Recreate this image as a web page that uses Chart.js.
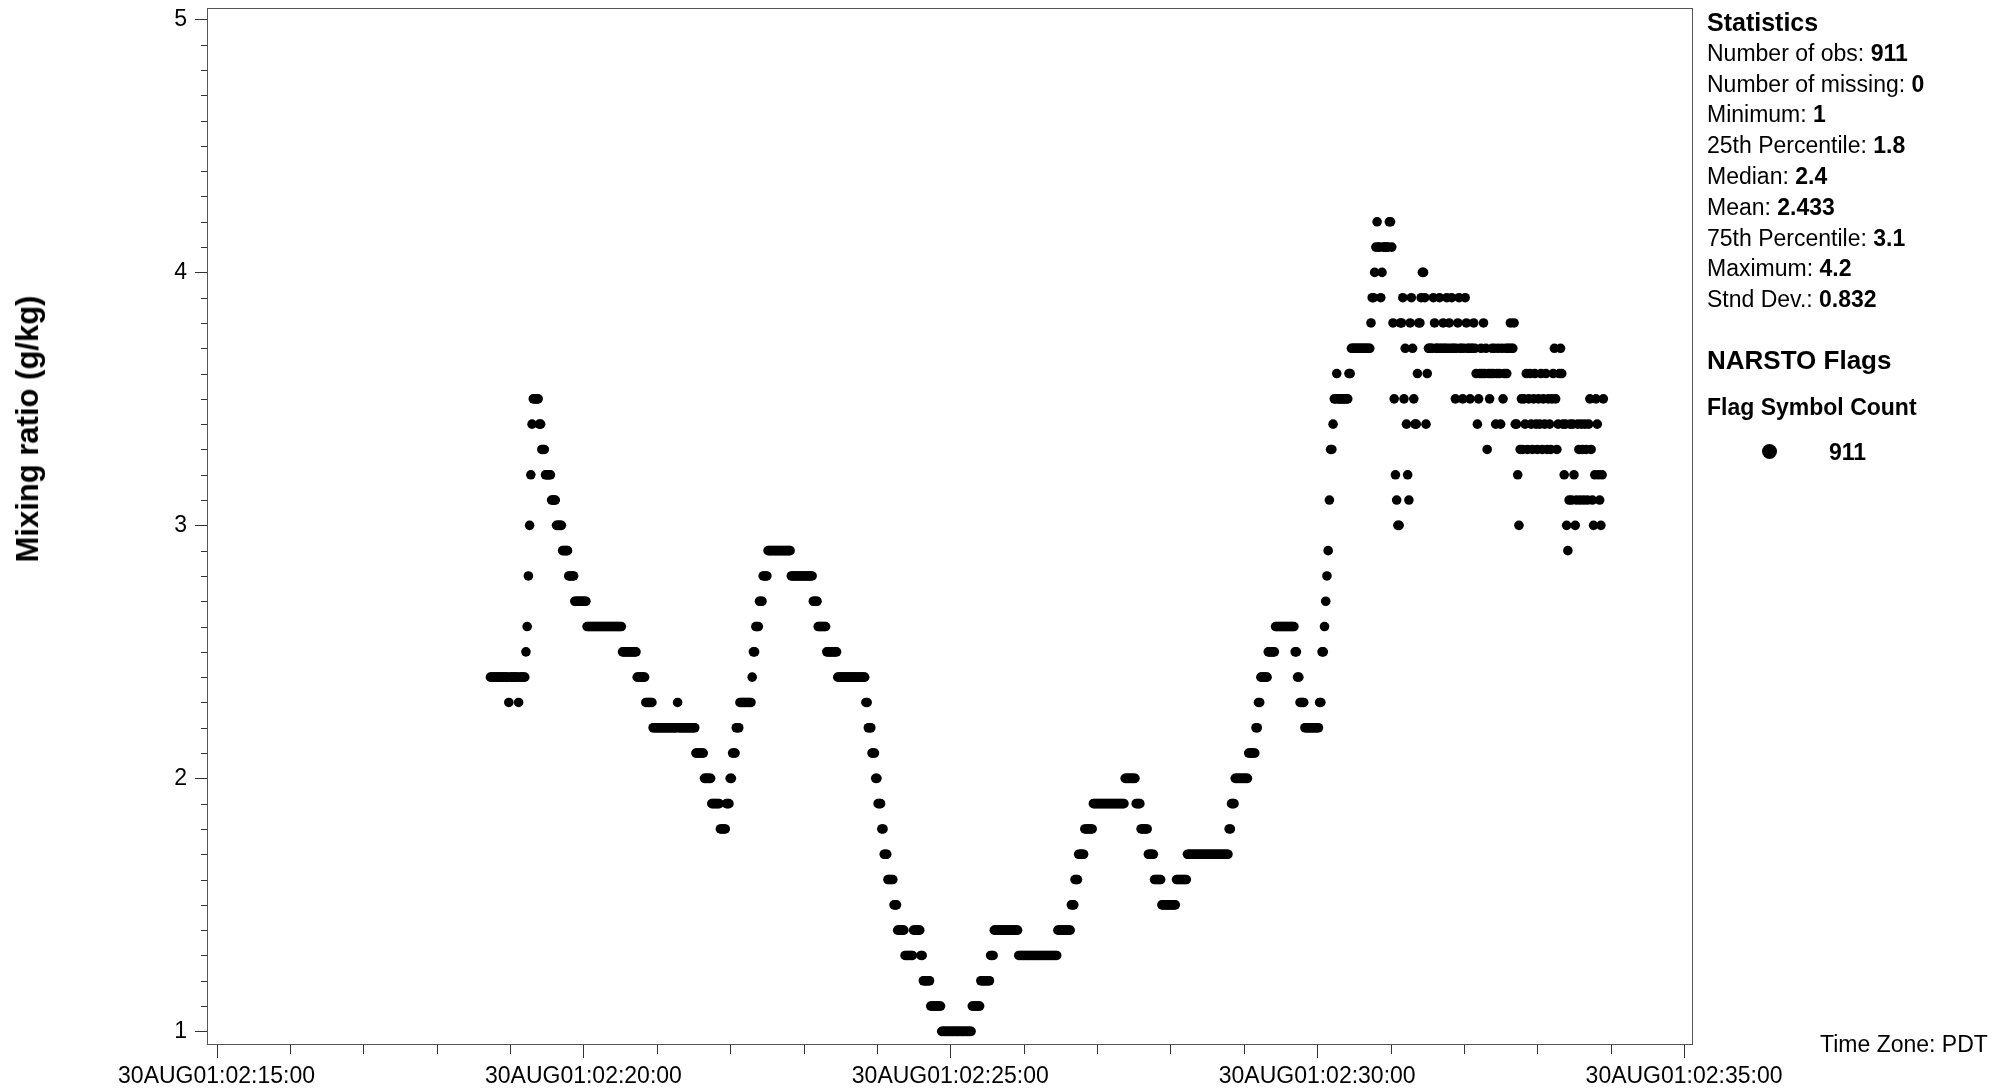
<!DOCTYPE html>
<html>
<head>
<meta charset="utf-8">
<script src="https://cdn.jsdelivr.net/npm/chart.js@4.4.1/dist/chart.umd.min.js"></script>
<style>
  html, body { margin: 0; padding: 0; background: #ffffff; }
  #wrap { position: relative; width: 2013px; height: 1089px; font-family: "Liberation Sans", Arial, sans-serif; color: #000; overflow: hidden; }
  #chart { position: absolute; left: 0; top: 0; }
  .txt { position: absolute; white-space: nowrap; }
  .stats { left: 1707px; top: 7px; font-size: 23px; line-height: 30.8px; }
  .stats .head { font-size: 25px; font-weight: bold; }
  .stats b { font-weight: bold; }
  .flags { left: 1707px; top: 345px; font-size: 26px; font-weight: bold; }
  .flaghdr { left: 1707px; top: 394px; font-size: 23px; font-weight: bold; }
  .legdot { position: absolute; left: 1762px; top: 444px; width: 15px; height: 15px; border-radius: 50%; background: #000; }
  .legcount { left: 1829px; top: 439px; font-size: 23px; font-weight: bold; }
  .tz { left: 1820px; top: 1031px; font-size: 23px; }
  .ytitle { left: 28px; top: 429px; font-size: 31px; font-weight: bold; transform: translate(-50%, -50%) rotate(-90deg); }
</style>
</head>
<body>
<div id="wrap">
  <canvas id="chart" width="2013" height="1089"></canvas>
  <div class="txt ytitle">Mixing ratio (g/kg)</div>
  <div class="txt stats">
    <div class="head">Statistics</div>
    <div>Number of obs: <b>911</b></div>
    <div>Number of missing: <b>0</b></div>
    <div>Minimum: <b>1</b></div>
    <div>25th Percentile: <b>1.8</b></div>
    <div>Median: <b>2.4</b></div>
    <div>Mean: <b>2.433</b></div>
    <div>75th Percentile: <b>3.1</b></div>
    <div>Maximum: <b>4.2</b></div>
    <div>Stnd Dev.: <b>0.832</b></div>
  </div>
  <div class="txt flags">NARSTO Flags</div>
  <div class="txt flaghdr">Flag Symbol Count</div>
  <div class="legdot"></div>
  <div class="txt legcount">911</div>
  <div class="txt tz">Time Zone: PDT</div>
</div>
<script>
// ---------------- DATA ----------------
// x values are seconds after 30AUG01 02:15:00 (PDT); one observation per second
const dayLabel = '30AUG01';
const axisOriginHour = 2, axisOriginMinute = 15;
const firstObsSecond = 224;            // 02:18:44
// smooth part: [mixing ratio g/kg, number of consecutive 1-s observations]
const runsSmooth = [
  [2.4,15],[2.3,1],[2.4,7],[2.3,1],[2.4,5],[2.5,1],[2.6,1],[2.8,1],[3.0,1],[3.2,1],[3.4,1],[3.5,5],[3.4,2],[3.3,3],
  [3.2,5],[3.1,4],[3.0,5],[2.9,5],[2.8,5],[2.7,10],[2.6,29],[2.5,12],[2.4,7],[2.3,6],[2.2,20],[2.3,1],[2.2,14],
  [2.1,7],[2.0,6],[1.9,7],[1.8,5],[1.9,3],[2.0,2],[2.1,3],[2.2,3],[2.3,10],[2.4,1],[2.5,2],[2.6,3],[2.7,3],[2.8,4],
  [2.9,19],[2.8,18],[2.7,4],[2.6,7],[2.5,9],[2.4,23],[2.3,2],[2.2,3],[2.1,3],[2.0,2],[1.9,3],[1.8,2],[1.7,3],[1.6,5],
  [1.5,3],[1.4,6],[1.3,7],[1.4,6],[1.3,2],[1.2,6],[1.1,9],[1.0,25],[1.1,7],[1.2,8],[1.3,3],[1.4,20],[1.3,32],[1.4,11],
  [1.5,3],[1.6,3],[1.7,5],[1.8,7],[1.9,26],[2.0,9],[1.9,4],[1.8,6],[1.7,5],[1.6,6],[1.5,12],[1.6,9],[1.7,34],[1.8,2],
  [1.9,3],[2.0,11],[2.1,6],[2.2,2],[2.3,2],[2.4,6],[2.5,6],[2.6,16],[2.5,2],[2.4,2],[2.3,4],[2.2,12],[2.3,2],[2.5,2],
  [2.6,1],[2.7,1],[2.8,1],[2.9,1],[3.1,1],[3.3,2],[3.4,1],[3.5,2],[3.6,1],[3.5,9],[3.6,2],[3.7,16],[3.8,1],[3.9,2],
  [4.0,1],[4.1,1],[4.2,1],[4.1,2],[3.9,1],[4.0,1],[4.1,5],[4.2,2],[4.1,1]
];
// noisy tail: one value per second (02:31:02 ... 02:33:54)
const tailValues = [
  3.8,3.5,3.2,3.1,3.0,3.0,3.8,3.8,3.9,3.5,
  3.7,3.4,3.2,3.1,3.8,3.9,3.7,3.5,3.4,3.4,
  3.6,3.8,3.8,3.9,4.0,4.0,3.9,3.4,3.6,3.7,
  3.7,3.7,3.7,3.9,3.8,3.7,3.7,3.7,3.9,3.7,
  3.7,3.8,3.7,3.7,3.9,3.7,3.8,3.7,3.9,3.7,
  3.7,3.5,3.7,3.8,3.9,3.7,3.7,3.5,3.7,3.9,
  3.8,3.7,3.7,3.5,3.7,3.7,3.8,3.7,3.6,3.4,
  3.5,3.6,3.7,3.6,3.8,3.6,3.7,3.3,3.6,3.5,
  3.6,3.7,3.6,3.7,3.4,3.6,3.7,3.6,3.4,3.7,
  3.5,3.6,3.7,3.6,3.7,3.7,3.8,3.7,3.7,3.8,
  3.4,3.4,3.2,3.0,3.3,3.5,3.3,3.5,3.4,3.6,
  3.3,3.5,3.6,3.4,3.3,3.5,3.6,3.4,3.3,3.5,
  3.4,3.6,3.3,3.5,3.4,3.6,3.3,3.5,3.4,3.3,
  3.5,3.6,3.7,3.5,3.3,3.4,3.6,3.7,3.6,3.4,
  3.2,3.4,3.0,2.9,3.1,3.4,3.1,3.4,3.2,3.0,
  3.1,3.4,3.3,3.1,3.4,3.3,3.1,3.4,3.3,3.1,
  3.4,3.5,3.3,3.1,3.0,3.2,3.5,3.4,3.2,3.1,
  3.0,3.2,3.5
];
const yTickStep = 0.1;
const xTickStepSeconds = 60;
const xLabelEverySeconds = 300;

// ---------------- BUILD POINTS ----------------
const points = [];
let sec = firstObsSecond;
runsSmooth.forEach(([v, n]) => { for (let k = 0; k < n; k++) { points.push({ x: sec, y: v }); sec++; } });
tailValues.forEach(v => { points.push({ x: sec, y: v }); sec++; });

function pad(n) { return String(n).padStart(2, '0'); }
function timeLabel(s) {
  const tot = axisOriginHour * 3600 + axisOriginMinute * 60 + Math.round(s);
  return dayLabel + ':' + pad(Math.floor(tot / 3600)) + ':' + pad(Math.floor((tot % 3600) / 60)) + ':' + pad(tot % 60);
}
function isInt(v) { return Math.abs(v - Math.round(v)) < 1e-6; }

const FONT = '"Liberation Sans", Arial, sans-serif';

const framePlugin = {
  id: 'frameTicks',
  afterDraw(chart) {
    const ctx = chart.ctx, a = chart.chartArea, xs = chart.scales.x, ys = chart.scales.y;
    ctx.save();
    ctx.strokeStyle = '#555';
    ctx.lineWidth = 1;
    ctx.strokeRect(Math.round(a.left) + 0.5, Math.round(a.top) + 0.5, Math.round(a.right - a.left), Math.round(a.bottom - a.top));
    ctx.strokeStyle = '#333';
    xs.ticks.forEach(t => {
      const px = Math.round(xs.getPixelForValue(t.value)) + 0.5;
      const major = Math.abs(t.value % xLabelEverySeconds) < 1e-6;
      ctx.beginPath();
      ctx.moveTo(px, a.bottom + 1);
      ctx.lineTo(px, a.bottom + (major ? 14 : 10));
      ctx.stroke();
    });
    ys.ticks.forEach(t => {
      const py = Math.round(ys.getPixelForValue(t.value)) + 0.5;
      const major = isInt(t.value);
      ctx.beginPath();
      ctx.moveTo(a.left, py);
      ctx.lineTo(a.left - (major ? 12 : 6), py);
      ctx.stroke();
    });
    ctx.restore();
  }
};

new Chart(document.getElementById('chart'), {
  type: 'scatter',
  data: {
    datasets: [{
      label: 'Mixing ratio',
      data: points,
      backgroundColor: '#000',
      borderWidth: 0,
      pointRadius: 4.8,
      pointHoverRadius: 4.8
    }]
  },
  options: {
    responsive: false,
    animation: false,
    devicePixelRatio: 1,
    layout: { autoPadding: false, padding: { left: 0, top: 8, right: 321, bottom: 0 } },
    plugins: { legend: { display: false }, tooltip: { enabled: false } },
    scales: {
      x: {
        type: 'linear',
        min: -7.8,
        max: 1206.5,
        afterFit: (s) => { s.height = 45; s.paddingLeft = 0; s.paddingRight = 0; },
        border: { display: false },
        grid: { drawOnChartArea: false, drawTicks: false },
        ticks: {
          stepSize: xTickStepSeconds,
          includeBounds: false,
          autoSkip: false,
          maxRotation: 0,
          minRotation: 0,
          padding: 19,
          color: '#000',
          font: { family: FONT, size: 23 },
          callback: (v) => (Math.abs(v % xLabelEverySeconds) < 1e-6 ? timeLabel(v) : '')
        }
      },
      y: {
        min: 0.95,
        max: 5.045,
        afterFit: (s) => { s.width = 207; s.paddingTop = 0; s.paddingBottom = 0; },
        border: { display: false },
        grid: { drawOnChartArea: false, drawTicks: false },
        ticks: {
          stepSize: yTickStep,
          includeBounds: false,
          autoSkip: false,
          padding: 20,
          color: '#000',
          font: { family: FONT, size: 23 },
          callback: (v) => (isInt(v) ? String(Math.round(v)) : '')
        }
      }
    }
  },
  plugins: [framePlugin]
});
</script>
</body>
</html>
